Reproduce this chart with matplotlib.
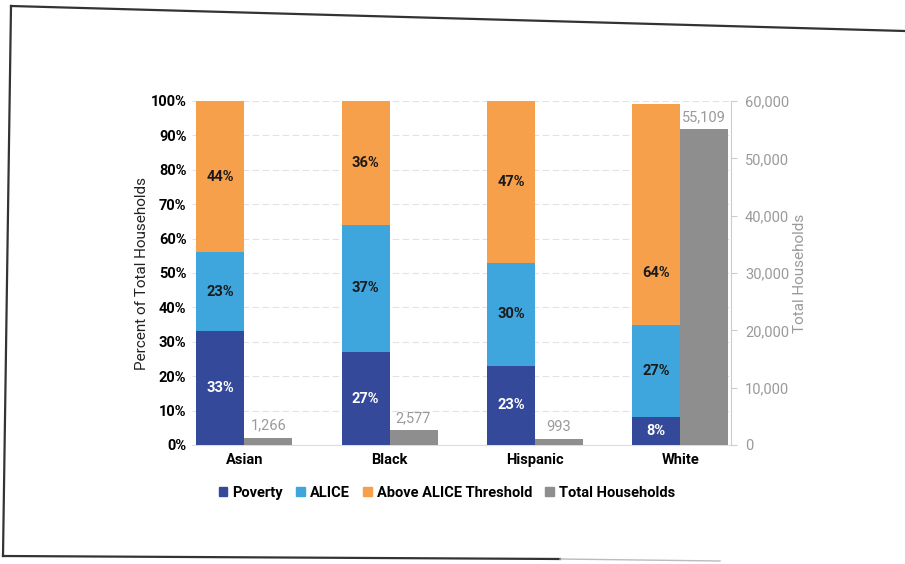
import numpy as np
import matplotlib.pyplot as plt
from matplotlib.lines import Line2D
from matplotlib.patches import Patch
from matplotlib.ticker import FuncFormatter

plt.rcParams['font.family'] = ['Roboto', 'DejaVu Sans']

categories = ['Asian', 'Black', 'Hispanic', 'White']
poverty = [33, 27, 23, 8]
alice = [23, 37, 30, 27]
above = [44, 36, 47, 64]
total_households = [1266, 2577, 993, 55109]

c_pov = '#34499a'
c_alice = '#3ea6dc'
c_above = '#f7a04b'
c_total = '#8e8e8e'

W, H = 905, 564
fig = plt.figure(figsize=(W / 100, H / 100), dpi=100)
ax = fig.add_axes([192 / W, 1 - 445 / H, 539 / W, 344 / H])
ax2 = ax.twinx()

x = np.arange(len(categories))
bw = 0.33

pov = np.array(poverty)
ali = np.array(alice)
abv = np.array(above)
ax.bar(x - bw / 2, pov, bw, color=c_pov, zorder=3)
ax.bar(x - bw / 2, ali, bw, bottom=pov, color=c_alice, zorder=3)
ax.bar(x - bw / 2, abv, bw, bottom=pov + ali, color=c_above, zorder=3)

# the White "above" label sits lower in its segment in the original
above_shift = [0, 0, 0, -17]
for i in range(len(categories)):
    ax.text(x[i] - bw / 2, pov[i] / 2, f'{pov[i]}%', ha='center', va='center',
            color='white', fontsize=10.5, fontweight='bold', zorder=4)
    ax.text(x[i] - bw / 2, pov[i] + ali[i] / 2, f'{ali[i]}%', ha='center', va='center',
            color='#1a1a1a', fontsize=10.5, fontweight='bold', zorder=4)
    ax.text(x[i] - bw / 2, pov[i] + ali[i] + abv[i] / 2 + above_shift[i], f'{abv[i]}%',
            ha='center', va='center', color='#1a1a1a', fontsize=10.5,
            fontweight='bold', zorder=4)

ax2.bar(x + bw / 2, total_households, bw, color=c_total, zorder=3)
for i, v in enumerate(total_households):
    ax2.text(x[i] + bw / 2, v + 900, f'{v:,}', ha='center', va='bottom',
             color='#9a9a9a', fontsize=10.5)

ax.set_xlim(-0.36, 3.35)
ax.set_ylim(0, 100)
ax2.set_ylim(0, 60000)
ax.set_yticks(np.arange(0, 101, 10))
ax.yaxis.set_major_formatter(FuncFormatter(lambda v, p: f'{v:.0f}%'))
ax2.set_yticks(np.arange(0, 60001, 10000))
ax2.yaxis.set_major_formatter(FuncFormatter(lambda v, p: f'{v:,.0f}'))

ax.set_xticks(x)
ax.set_xticklabels(categories, fontsize=10.5, fontweight='bold')
ax.tick_params(axis='x', length=0, pad=6)
ax.tick_params(axis='y', length=0, labelsize=10.5, pad=4)
ax2.tick_params(axis='y', length=4, color='#cccccc', labelsize=10.5, labelcolor='#9a9a9a', pad=6)
for t in ax.get_yticklabels():
    t.set_fontweight('bold')

ax.grid(axis='y', color='#e2e2e2', linestyle=(0, (6, 3)), linewidth=0.8, zorder=0)
for s in ['top', 'left', 'right']:
    ax.spines[s].set_visible(False)
    ax2.spines[s].set_visible(False)
ax.spines['bottom'].set_color('#dddddd')
ax2.spines['bottom'].set_visible(False)
ax2.spines['right'].set_visible(True)
ax2.spines['right'].set_color('#cccccc')

ax.set_ylabel('Percent of Total Households', fontsize=11, color='#222222', labelpad=1)
ax2.set_ylabel('Total Households', fontsize=11, color='#9a9a9a', labelpad=3)

handles = [Patch(color=c_pov), Patch(color=c_alice), Patch(color=c_above), Patch(color=c_total)]
labels = ['Poverty', 'ALICE', 'Above ALICE Threshold', 'Total Households']
leg = fig.legend(handles, labels, loc='center', bbox_to_anchor=(447 / W, 1 - 493 / H),
                 ncol=4, frameon=False, handlelength=0.6, handleheight=0.6,
                 handletextpad=0.35, columnspacing=0.9,
                 prop={'size': 10.5, 'weight': 'bold'})

# scanned page frame
def fl(x0, y0, x1, y1, c='#333333', lw=1.6):
    fig.add_artist(Line2D([x0 / W, x1 / W], [1 - y0 / H, 1 - y1 / H],
                          color=c, linewidth=lw, transform=fig.transFigure))

fl(11, 6, 905, 31)
fl(11, 6, 3, 556)
fl(3, 556, 560, 559)
fl(560, 559, 720, 561, c='#bbbbbb', lw=1.0)

fig.savefig('out.png', dpi=100)
